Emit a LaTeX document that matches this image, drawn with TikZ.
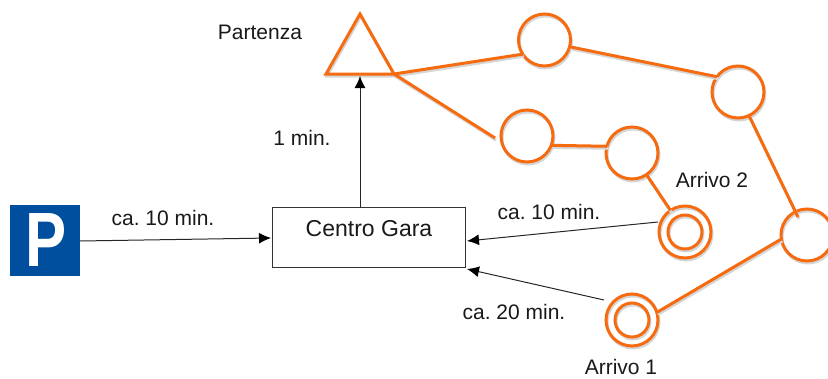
\documentclass[tikz,border=0pt]{standalone}
\usepackage{fontspec}
\setmainfont{Liberation Sans}
\usetikzlibrary{arrows.meta,shadows}
\definecolor{rorange}{HTML}{F76B10}
\definecolor{pblue}{HTML}{004F9F}
\tikzset{
  x=1pt,y=-1pt,
  shadowed/.style={copy shadow={shadow xshift=1pt,shadow yshift=-2pt,draw=black!16,fill=none,opacity=1}},
  stop/.style={circle,draw=rorange,line width=3pt,minimum size=52pt,inner sep=0pt,outer sep=0pt,shadowed},
  inner stop/.style={circle,draw=rorange,line width=3pt,minimum size=34pt,inner sep=0pt,outer sep=0pt,shadowed},
  leg/.style={draw=rorange,line width=3pt,preaction={draw=black!16,line width=3pt,transform canvas={shift={(1pt,-2pt)}}}},
  walk/.style={draw=black!85,line width=1pt,-{Latex[length=12pt,width=11pt,black]}},
  lbl/.style={inner sep=0pt,font=\fontsize{21}{24}\selectfont,text=black!90},
}
\begin{document}
\frenchspacing
\begin{tikzpicture}
\useasboundingbox (0,0) rectangle (828,378);
% parking sign
\node[fill=pblue,minimum width=70pt,minimum height=71pt,inner sep=0pt,outer sep=0pt] (park) at (45,240.5) {};
\node[text=white,inner sep=0pt,font=\bfseries\fontsize{77}{77}\selectfont,xscale=.8,transform shape] (parkP) at (46.5,240.5) {P};
% centre
\node[draw=black!80,line width=1pt,minimum width=193pt,minimum height=60pt,inner sep=0pt,outer sep=0pt] (centro) at (368.5,237) {};
\node[lbl,font=\fontsize{23}{26}\selectfont] (centrotxt) at (369,229) {Centro Gara};
% start triangle
\coordinate (tA) at (360,14);
\coordinate (tL) at (326,74);
\coordinate (tR) at (394,74);
\coordinate (tBase) at (360,76);
\draw[leg,line join=miter] (tA) -- (tL) -- (tR) -- cycle;
% stops
\node[stop] (c1) at (544.5,40) {};
\node[stop] (c2) at (738,92) {};
\node[stop] (c3) at (527,136) {};
\node[stop] (c4) at (632,153) {};
\node[stop] (c5) at (807,235) {};
\node[stop] (a2) at (685,232) {};
\node[inner stop] (a2i) at (685,232) {};
\node[stop] (a1) at (632,320) {};
\node[inner stop] (a1i) at (632,320) {};
% legs
\coordinate (c5in) at (798,217);
\coordinate (c3near) at (495,138);
\draw[leg] (tR) -- (c1.213);
\draw[leg] (c1.-15) -- (c2.144);
\draw[leg] (c2.-65) -- (c5in);
\draw[leg] (c5.189) -- (a1.17);
\draw[leg] (tR) -- (c3near);
\draw[leg] (c3.-21) -- (c4.165);
\draw[leg] (c4) -- (a2);
% walking connectors
\coordinate (parkE) at (80,241);
\coordinate (centroW) at (271,238);
\coordinate (centroN) at (360,207);
\coordinate (a2W) at (658,222);
\coordinate (centroE1) at (467,241);
\coordinate (a1W) at (604,300);
\coordinate (centroE2) at (467,269);
\draw[walk] (parkE) -- (centroW);
\draw[walk] (centroN) -- (tBase);
\draw[walk] (a2W) -- (centroE1);
\draw[walk] (a1W) -- (centroE2);
% labels
\node[lbl] (l1) at (163,218) {ca. 10 min.};
\node[lbl] (l2) at (302,138) {1 min.};
\node[lbl] (l3) at (260,32) {Partenza};
\node[lbl] (l4) at (712,180) {Arrivo 2};
\node[lbl] (l5) at (549,212) {ca. 10 min.};
\node[lbl] (l6) at (514,312) {ca. 20 min.};
\node[lbl] (l7) at (621,367) {Arrivo 1};
\end{tikzpicture}
\end{document}
